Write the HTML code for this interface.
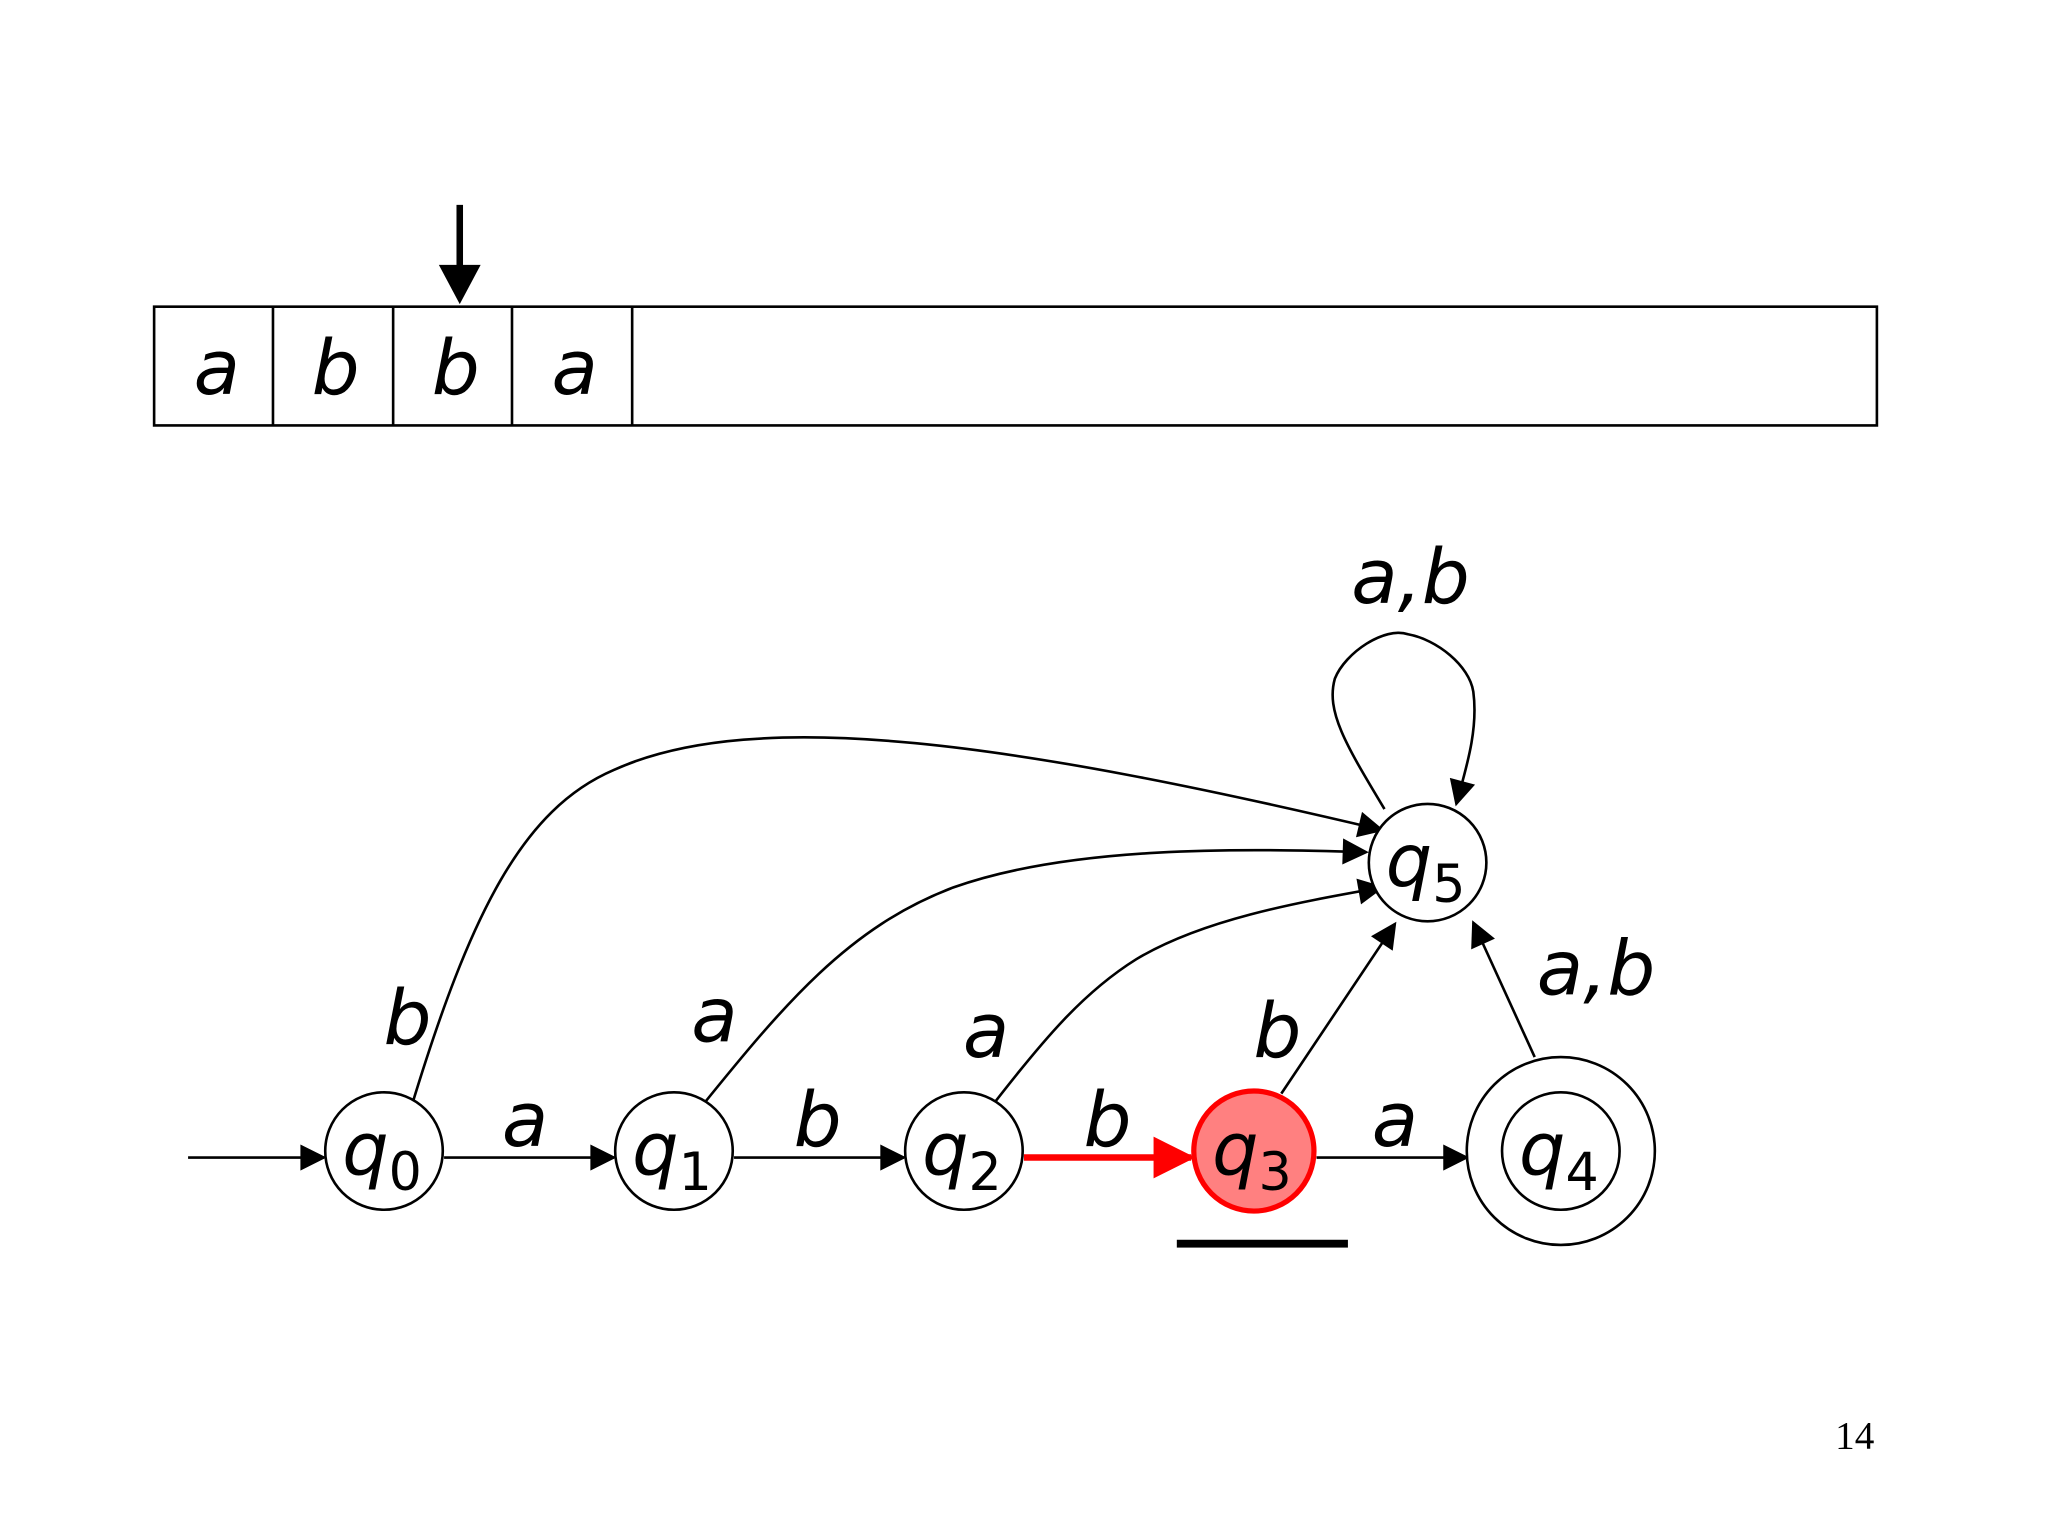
<!DOCTYPE html>
<html><head><style>html,body{margin:0;padding:0;background:#fff}svg{display:block}
.t{font-family:"DejaVu Sans","Liberation Sans",sans-serif;font-style:oblique;font-size:58px;fill:#000}
.q{font-family:"DejaVu Sans","Liberation Sans",sans-serif;font-style:oblique;font-size:56px}
.s{font-family:"DejaVu Sans","Liberation Sans",sans-serif;font-style:normal;font-size:40px}
</style></head><body>
<svg width="2048" height="1536" viewBox="0 0 1568 1177" preserveAspectRatio="none" xmlns="http://www.w3.org/2000/svg">
<defs>
<marker id="ahb" viewBox="0 0 10 10" refX="9" refY="5" markerWidth="22" markerHeight="20" orient="auto" markerUnits="userSpaceOnUse"><path d="M0,0 L10,5 L0,10z"/></marker>
<marker id="ahr" viewBox="0 0 10 10" refX="9" refY="5" markerWidth="32" markerHeight="32" orient="auto" markerUnits="userSpaceOnUse"><path d="M0,0 L10,5 L0,10z" fill="red"/></marker></defs>
<rect x="118" y="235" width="1319" height="91" fill="none" stroke="#000" stroke-width="2"/>
<g stroke="#000" stroke-width="2"><line x1="209" y1="235" x2="209" y2="326"/><line x1="301" y1="235" x2="301" y2="326"/><line x1="392" y1="235" x2="392" y2="326"/><line x1="484" y1="235" x2="484" y2="326"/></g>
<g class="t" text-anchor="middle"><text x="166" y="302">a</text><text x="257" y="302">b</text><text x="349" y="302">b</text><text x="440" y="302">a</text></g>
<line x1="352" y1="157" x2="352" y2="205" stroke="#000" stroke-width="5"/>
<path d="M336,203 L368,203 L352,233z"/>
<g stroke="#000" stroke-width="2" fill="none">
<line x1="144" y1="887" x2="248" y2="887" marker-end="url(#ahb)"/>
<line x1="340" y1="887" x2="470" y2="887" marker-end="url(#ahb)"/>
<line x1="562" y1="887" x2="692" y2="887" marker-end="url(#ahb)"/>
<line x1="1008" y1="887" x2="1123" y2="887" marker-end="url(#ahb)"/>
<path d="M315,848 C360,700 400,620 470,590 C580,540 780,570 1058,636" marker-end="url(#ahb)"/>
<path d="M537,848 C600,770 650,710 730,680 C820,648 950,650 1046,653" marker-end="url(#ahb)"/>
<path d="M759,848 C800,795 830,760 870,735 C920,705 990,692 1058,680" marker-end="url(#ahb)"/>
<line x1="981" y1="838" x2="1068" y2="708" marker-end="url(#ahb)"/>
<line x1="1175" y1="810" x2="1128" y2="707" marker-end="url(#ahb)"/>
<path d="M1060,620 C1030,570 1015,545 1022,520 C1030,500 1060,480 1078,486 C1100,490 1125,510 1128,530 C1132,560 1122,590 1115,616" marker-end="url(#ahb)"/>
</g>
<line x1="784" y1="887" x2="912" y2="887" stroke="red" stroke-width="5" marker-end="url(#ahr)"/>
<g stroke="#000" stroke-width="2" fill="#fff">
<circle cx="294" cy="882" r="45"/><circle cx="516" cy="882" r="45"/><circle cx="738" cy="882" r="45"/>
<circle cx="1195" cy="882" r="72"/><circle cx="1195" cy="882" r="45"/><circle cx="1093" cy="661" r="45"/>
</g>
<circle cx="960" cy="882" r="46" fill="#ff8080" stroke="red" stroke-width="4"/>
<g class="q">
<text x="262" y="900">q<tspan class="s" dy="12">0</tspan></text>
<text x="484" y="900">q<tspan class="s" dy="12">1</tspan></text>
<text x="706" y="900">q<tspan class="s" dy="12">2</tspan></text>
<text x="928" y="900">q<tspan class="s" dy="12">3</tspan></text>
<text x="1163" y="900">q<tspan class="s" dy="12">4</tspan></text>
<text x="1061" y="679">q<tspan class="s" dy="12">5</tspan></text>
</g>
<g class="t" text-anchor="middle">
<text x="402" y="878">a</text><text x="626" y="878">b</text><text x="848" y="878">b</text><text x="1068" y="878">a</text>
<text x="312" y="800">b</text><text x="547" y="798">a</text><text x="755" y="810">a</text><text x="978" y="810">b</text>
<text x="1222" y="762">a,b</text><text x="1080" y="462">a,b</text>
</g>
<rect x="901" y="950" width="131" height="6"/>
<text x="1420" y="1110" font-family="Liberation Serif,serif" font-size="30" text-anchor="middle">14</text>
</svg></body></html>
